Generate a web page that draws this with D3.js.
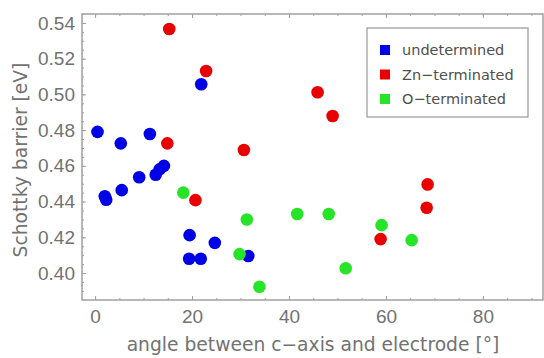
<html>
  <head>
    <script type="text/javascript" src="https://cdn.jsdelivr.net/npm/d3@7"></script>
    <style>
      body { margin: 0; background: white; }
      svg { display: block; }
    </style>
  </head>
  <body>
    <script type="text/javascript">
      // Størrelse
      const w = 544;
      const h = 358;

      // Data
      const undeterminedAngle = [0.5, 2.0, 2.3, 5.3, 5.5, 9.1, 11.3, 12.5, 13.3, 14.2, 21.9, 19.5, 19.4, 21.8, 24.7, 31.6];
      const undeterminedBarrier = [0.479, 0.443, 0.441, 0.4726, 0.4464, 0.4536, 0.4778, 0.455, 0.458, 0.460, 0.5057, 0.4212, 0.408, 0.408, 0.4169, 0.4095];

      const znAngle = [15.3, 14.9, 22.9, 45.9, 49.0, 30.7, 20.7, 68.6, 68.4, 58.9];
      const znBarrier = [0.5366, 0.4726, 0.5131, 0.5012, 0.4879, 0.4689, 0.4408, 0.4496, 0.4365, 0.419];

      const oAngle = [18.2, 31.3, 29.8, 33.9, 41.7, 48.2, 51.7, 59.1, 65.3];
      const oBarrier = [0.445, 0.430, 0.4106, 0.3923, 0.433, 0.433, 0.4027, 0.4268, 0.4184];

      const seriesNames = ["undetermined", "Zn\u2212terminated", "O\u2212terminated"];
      const seriesColors = ["#0000e8", "#e80000", "#28e428"];

      const xTicks = [0, 20, 40, 60, 80];
      const yTicks = [0.40, 0.42, 0.44, 0.46, 0.48, 0.50, 0.52, 0.54];

      // Plot-område
      const padLeft = 82, padRight = 543, padTop = 14, padBottom = 300;

      const xScale = d3.scaleLinear()
        .domain([-2.7, 92.4])
        .range([padLeft, padRight]);

      const yScale = d3.scaleLinear()
        .domain([0.3849, 0.5450])
        .range([padBottom, padTop]);

      const svg = d3.select("body")
        .append("svg")
        .attr("width", w)
        .attr("height", h)
        .style("font-family", "DejaVu Sans, sans-serif");

      const axisColor = "#a0a0a0";
      const textColor = "#727272";

      // Ramme
      svg.append("rect")
        .attr("x", padLeft)
        .attr("y", padTop)
        .attr("width", padRight - padLeft)
        .attr("height", padBottom - padTop)
        .attr("fill", "none")
        .attr("stroke", axisColor)
        .attr("stroke-width", 1.5);

      // Små ticks
      const xMinor = d3.range(0, 92, 5);
      const yMinor = d3.range(0.39, 0.545, 0.005);

      function styleAxis(g) {
        g.select(".domain").remove();
        g.selectAll("line").attr("stroke", axisColor);
        g.selectAll("text").attr("fill", textColor);
      }

      // X-akse nederst
      svg.append("g")
        .attr("transform", "translate(0," + padBottom + ")")
        .call(d3.axisTop(xScale).tickValues(xMinor).tickSize(2).tickFormat(""))
        .call(styleAxis);
      svg.append("g")
        .attr("transform", "translate(0," + padBottom + ")")
        .call(d3.axisBottom(xScale).tickValues(xTicks).tickSize(-4).tickPadding(10).tickFormat(d3.format("d")))
        .call(styleAxis)
        .selectAll("text")
        .style("font-size", "19px");

      // Top ramme-ticks
      svg.append("g")
        .attr("transform", "translate(0," + padTop + ")")
        .call(d3.axisBottom(xScale).tickValues(xMinor).tickSize(2).tickFormat(""))
        .call(styleAxis);
      svg.append("g")
        .attr("transform", "translate(0," + padTop + ")")
        .call(d3.axisBottom(xScale).tickValues(xTicks).tickSize(4).tickFormat(""))
        .call(styleAxis);

      // Y-akse
      svg.append("g")
        .attr("transform", "translate(" + padLeft + ",0)")
        .call(d3.axisRight(yScale).tickValues(yMinor).tickSize(2).tickFormat(""))
        .call(styleAxis);
      svg.append("g")
        .attr("transform", "translate(" + padLeft + ",0)")
        .call(d3.axisLeft(yScale).tickValues(yTicks).tickSize(-4).tickPadding(7).tickFormat(d3.format(".2f")))
        .call(styleAxis)
        .selectAll("text")
        .style("font-size", "19px");

      // Akse-titler
      svg.append("text")
        .attr("x", 313)
        .attr("y", 351)
        .attr("text-anchor", "middle")
        .attr("fill", textColor)
        .style("font-size", "18.7px")
        .text("angle between c\u2212axis and electrode [\u00b0]");

      svg.append("text")
        .attr("transform", "translate(27,160) rotate(-90)")
        .attr("text-anchor", "middle")
        .attr("fill", textColor)
        .style("font-size", "18.7px")
        .text("Schottky barrier [eV]");

      // Punkter
      const series = [
        { ang: undeterminedAngle, bar: undeterminedBarrier },
        { ang: znAngle, bar: znBarrier },
        { ang: oAngle, bar: oBarrier }
      ];

      series.forEach(function (s, k) {
        svg.append("g")
          .selectAll("circle")
          .data(s.ang)
          .enter()
          .append("circle")
          .attr("cx", function (d) { return xScale(d); })
          .attr("cy", function (d, i) { return yScale(s.bar[i]); })
          .attr("r", 6.3)
          .attr("fill", seriesColors[k]);
      });

      // Legend
      const legend = svg.append("g");
      legend.append("rect")
        .attr("x", 367)
        .attr("y", 28)
        .attr("width", 161)
        .attr("height", 89)
        .attr("fill", "white")
        .attr("stroke", axisColor)
        .attr("stroke-width", 1.3);

      seriesNames.forEach(function (name, i) {
        const yy = 50 + i * 24.5;
        legend.append("rect")
          .attr("x", 380)
          .attr("y", yy - 5)
          .attr("width", 10)
          .attr("height", 10)
          .attr("fill", seriesColors[i]);
        legend.append("text")
          .attr("x", 402)
          .attr("y", yy + 5)
          .attr("fill", "#505050")
          .style("font-size", "14.5px")
          .text(name);
      });
    </script>
  </body>
</html>
